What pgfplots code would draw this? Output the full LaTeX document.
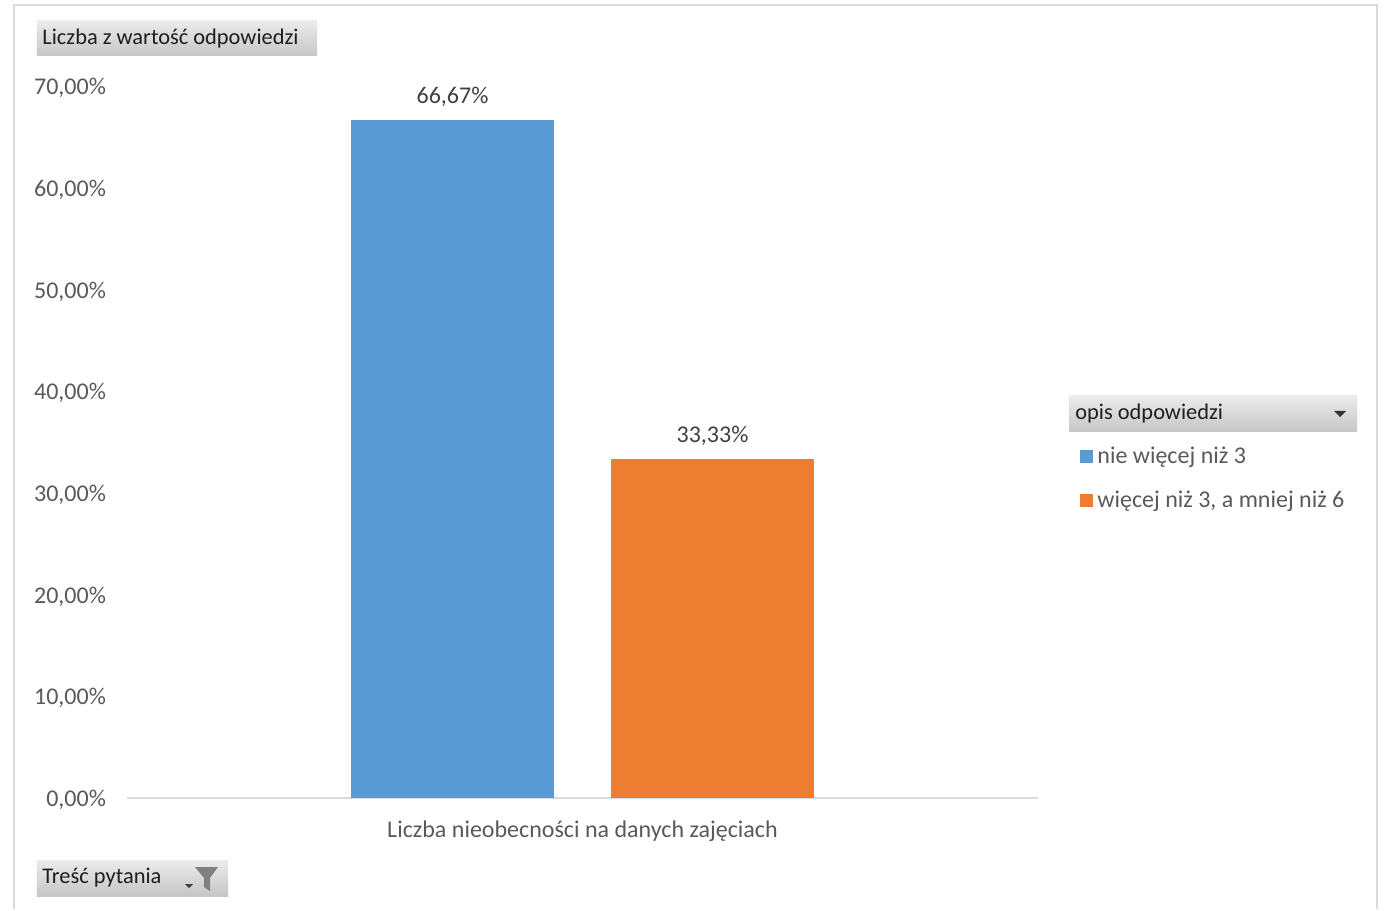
\documentclass[border=0pt]{standalone}
\usepackage{pgfplots}
\pgfplotsset{compat=1.18}
\usepackage{fontspec}
\setmainfont{Carlito}
\definecolor{exblue}{HTML}{5B9BD5}
\definecolor{exorange}{HTML}{ED7D31}
\definecolor{txtgray}{HTML}{595959}
\definecolor{lblgray}{HTML}{404040}
\definecolor{linegray}{HTML}{D9D9D9}
\definecolor{btntop}{HTML}{EBEBEB}
\definecolor{btnbot}{HTML}{C6C6C6}
\definecolor{btntext}{HTML}{1E1E1E}
\newcommand{\fnt}{\fontsize{12}{14}\selectfont}
\newcommand{\bfnt}{\fontsize{11.2}{13}\selectfont}
\begin{document}
\begin{tikzpicture}
\begin{scope}[xshift=-63.5pt, yshift=399pt, x=0.5pt, y=0.5pt]
  \useasboundingbox (0,0) rectangle (1386,-909);
\end{scope}
\begin{axis}[
  at={(0,0)}, anchor=south west,
  scale only axis, width=455.5pt, height=356pt,
  xmin=-1, xmax=1, ymin=0, ymax=70,
  ybar=28.5pt, bar width=101.5pt,
  axis x line*=bottom, axis y line*=left,
  x axis line style={-, draw=linegray, line width=1pt},
  y axis line style={draw=none},
  major tick length=0pt,
  ytick={0,10,...,70},
  yticklabels={{0,00\%},{10,00\%},{20,00\%},{30,00\%},{40,00\%},{50,00\%},{60,00\%},{70,00\%}},
  yticklabel style={text=txtgray, font=\fnt, xshift=-7pt, yshift=-1pt},
  xtick={0},
  xticklabels={Liczba nieobecności na danych zajęciach},
  xticklabel style={text=txtgray, font=\fnt, yshift=-8pt},
  /pgf/number format/assume math mode=true,
  nodes near coords={\pgfmathprintnumber[fixed,fixed zerofill,precision=2,use comma]{\pgfplotspointmeta}\%},
  every node near coord/.append style={text=lblgray, font=\fnt, yshift=3pt},
  legend style={at={(1.0461,0.5)}, anchor=north west, draw=none, fill=none,
    font=\fnt, text=txtgray, inner sep=0pt, row sep=8.5pt},
  legend cell align=left,
  legend image code/.code={\fill[#1] (0pt,-3.25pt) rectangle (6.5pt,3.25pt);},
  clip=false,
]
\addplot[fill=exblue, draw=none] coordinates {(0,66.67)};
\addplot[fill=exorange, draw=none] coordinates {(0,33.33)};
\legend{nie więcej niż 3, {więcej niż 3, a mniej niż 6}}
\end{axis}
\begin{scope}[xshift=-63.5pt, yshift=399pt, x=0.5pt, y=0.5pt]
  \draw[linegray, line width=1pt] (14,-909) -- (14,-5) -- (1377,-5) -- (1377,-909);
  % title button
  \shade[top color=btntop, bottom color=btnbot] (37,-21) rectangle (317,-56);
  \node[anchor=west, font=\bfnt, text=btntext, inner sep=0pt] at (42,-39) {Liczba z wartość odpowiedzi};
  % bottom button
  \shade[top color=btntop, bottom color=btnbot] (37,-860) rectangle (228,-896);
  \node[anchor=west, font=\bfnt, text=btntext, inner sep=0pt] at (42,-878) {Treść pytania};
  \fill[lblgray] (185,-884) -- (193,-884) -- (189,-888) -- cycle;
  \fill[gray] (195,-867) -- (218,-867) -- (210,-878) -- (210,-891) -- (204,-887) -- (204,-878) -- cycle;
  % legend header
  \shade[top color=btntop, bottom color=btnbot] (1069,-396) rectangle (1357,-432);
  \node[anchor=west, font=\bfnt, text=btntext, inner sep=0pt] at (1075,-414) {opis odpowiedzi};
  \fill[black!80] (1334,-411) -- (1346,-411) -- (1340,-417) -- cycle;
\end{scope}
\end{tikzpicture}
\end{document}
